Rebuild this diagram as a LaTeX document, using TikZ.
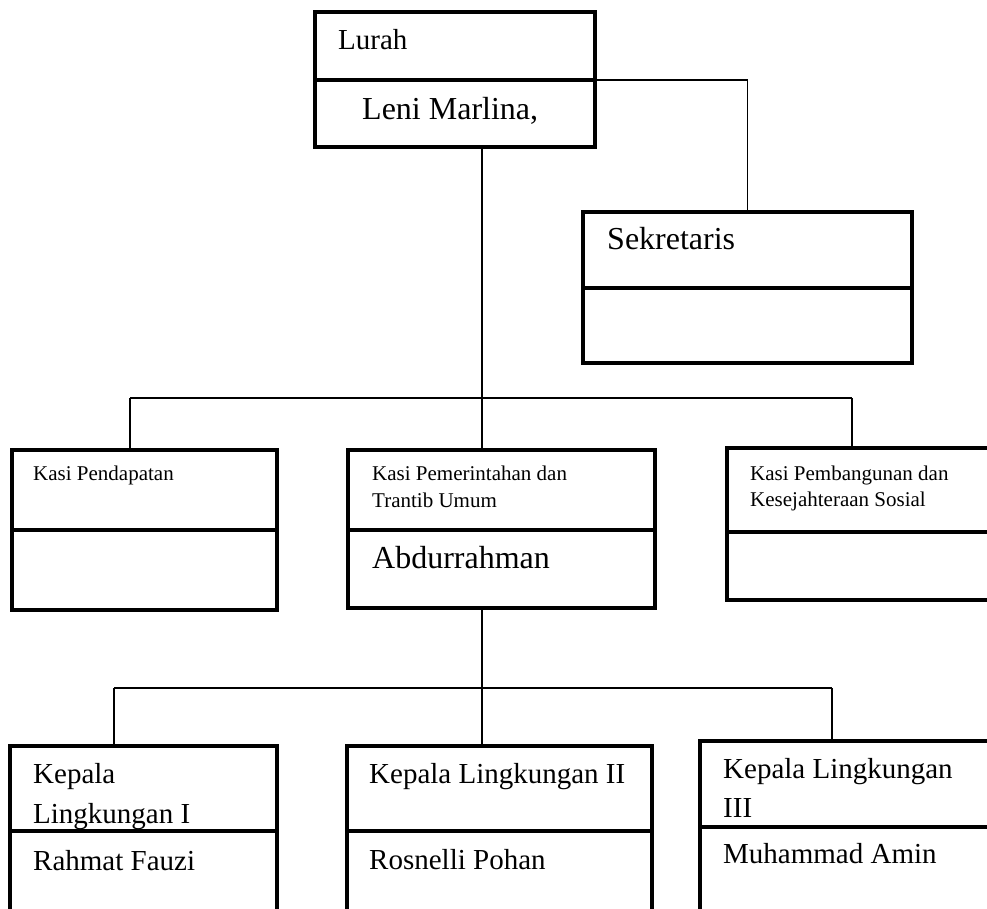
\documentclass[tikz,border=0pt]{standalone}
\usepackage{fontspec}
\setmainfont{Liberation Serif}
\usetikzlibrary{calc}

\tikzset{
  part/.style={draw, line width=3.3pt, anchor=north west, outer sep=0pt, inner sep=0pt},
  link/.style={draw, line width=1.3pt},
  txt/.style={anchor=base west, inner sep=0pt, align=left}
}

\begin{document}
\begin{tikzpicture}[x=1pt,y=-1pt]
  \useasboundingbox (0,0) rectangle (987,909);
  \clip (0,0) rectangle (987,909);

  % Lurah
  \node[part, minimum width=280pt, minimum height=68pt] (lurahT) at (315,12) {};
  \node[part, minimum width=280pt, minimum height=67pt] (lurahB) at (315,80) {};
  \node[txt, font=\fontsize{29}{34}\selectfont] (tLurah) at (338,50) {Lurah};
  \node[txt, font=\fontsize{32}{38}\selectfont] (tLeni) at (362,120) {Leni Marlina,};

  % Sekretaris
  \node[part, minimum width=329pt, minimum height=76pt] (sekT) at (583,212) {};
  \node[part, minimum width=329pt, minimum height=75pt] (sekB) at (583,288) {};
  \node[txt, font=\fontsize{32}{38}\selectfont] (tSek) at (607,250) {Sekretaris};

  % Les trois Kasi
  \node[part, minimum width=265pt, minimum height=80pt] (pendT) at (12,450) {};
  \node[part, minimum width=265pt, minimum height=80pt] (pendB) at (12,530) {};
  \node[txt, font=\fontsize{21}{27}\selectfont] (tPend) at (33,480) {Kasi Pendapatan};

  \node[part, minimum width=307pt, minimum height=80pt] (pemT) at (348,450) {};
  \node[part, minimum width=307pt, minimum height=78pt] (pemB) at (348,530) {};
  \node[txt, font=\fontsize{21}{27}\selectfont] (tPem) at (372,507) {Kasi Pemerintahan dan\\Trantib Umum};
  \node[txt, font=\fontsize{32}{38}\selectfont] (tAbdur) at (372,568) {Abdurrahman};

  \node[part, minimum width=273pt, minimum height=84pt] (pembT) at (727,448) {};
  \node[part, minimum width=273pt, minimum height=68pt] (pembB) at (727,532) {};
  \node[txt, font=\fontsize{21}{26}\selectfont] (tPemb) at (750,506) {Kasi Pembangunan dan\\Kesejahteraan Sosial};

  % Les Kepala Lingkungan
  \node[part, minimum width=267pt, minimum height=85pt] (kl1T) at (10,746) {};
  \node[part, minimum width=267pt, minimum height=90pt] (kl1B) at (10,831) {};
  \node[txt, font=\fontsize{29}{40}\selectfont] (tKl1) at (33,823) {Kepala\\Lingkungan I};
  \node[txt, font=\fontsize{29}{34}\selectfont] (tRahmat) at (33,870) {Rahmat Fauzi};

  \node[part, minimum width=305pt, minimum height=85pt] (kl2T) at (347,746) {};
  \node[part, minimum width=305pt, minimum height=90pt] (kl2B) at (347,831) {};
  \node[txt, font=\fontsize{29}{34}\selectfont] (tKl2) at (369,783) {Kepala Lingkungan II};
  \node[txt, font=\fontsize{29}{34}\selectfont] (tRosnelli) at (369,869) {Rosnelli Pohan};

  \node[part, minimum width=300pt, minimum height=86pt] (kl3T) at (700,741) {};
  \node[part, minimum width=300pt, minimum height=94pt] (kl3B) at (700,827) {};
  \node[txt, font=\fontsize{29}{39}\selectfont] (tKl3) at (723,817) {Kepala Lingkungan\\III};
  \node[txt, font=\fontsize{29}{34}\selectfont] (tAmin) at (723,863) {Muhammad Amin};

  % Liaisons
  \coordinate (busAL) at (130,398);
  \coordinate (busAM) at (482,398);
  \coordinate (busAR) at (852,398);
  \coordinate (busBL) at (114,688);
  \coordinate (busBM) at (482,688);
  \coordinate (busBR) at (832,688);

  \draw[link] (lurahT.south east) -| (sekT.north);
  \draw[link] (busAM |- lurahB.south) -- (busAM);
  \draw[link] (busAL) -- (busAR);
  \draw[link] (busAL) -- (busAL |- pendT.north);
  \draw[link] (busAM) -- (busAM |- pemT.north);
  \draw[link] (busAR) -- (busAR |- pembT.north);

  \draw[link] (busBM |- pemB.south) -- (busBM);
  \draw[link] (busBL) -- (busBR);
  \draw[link] (busBL) -- (busBL |- kl1T.north);
  \draw[link] (busBM) -- (busBM |- kl2T.north);
  \draw[link] (busBR) -- (busBR |- kl3T.north);
\end{tikzpicture}
\end{document}
